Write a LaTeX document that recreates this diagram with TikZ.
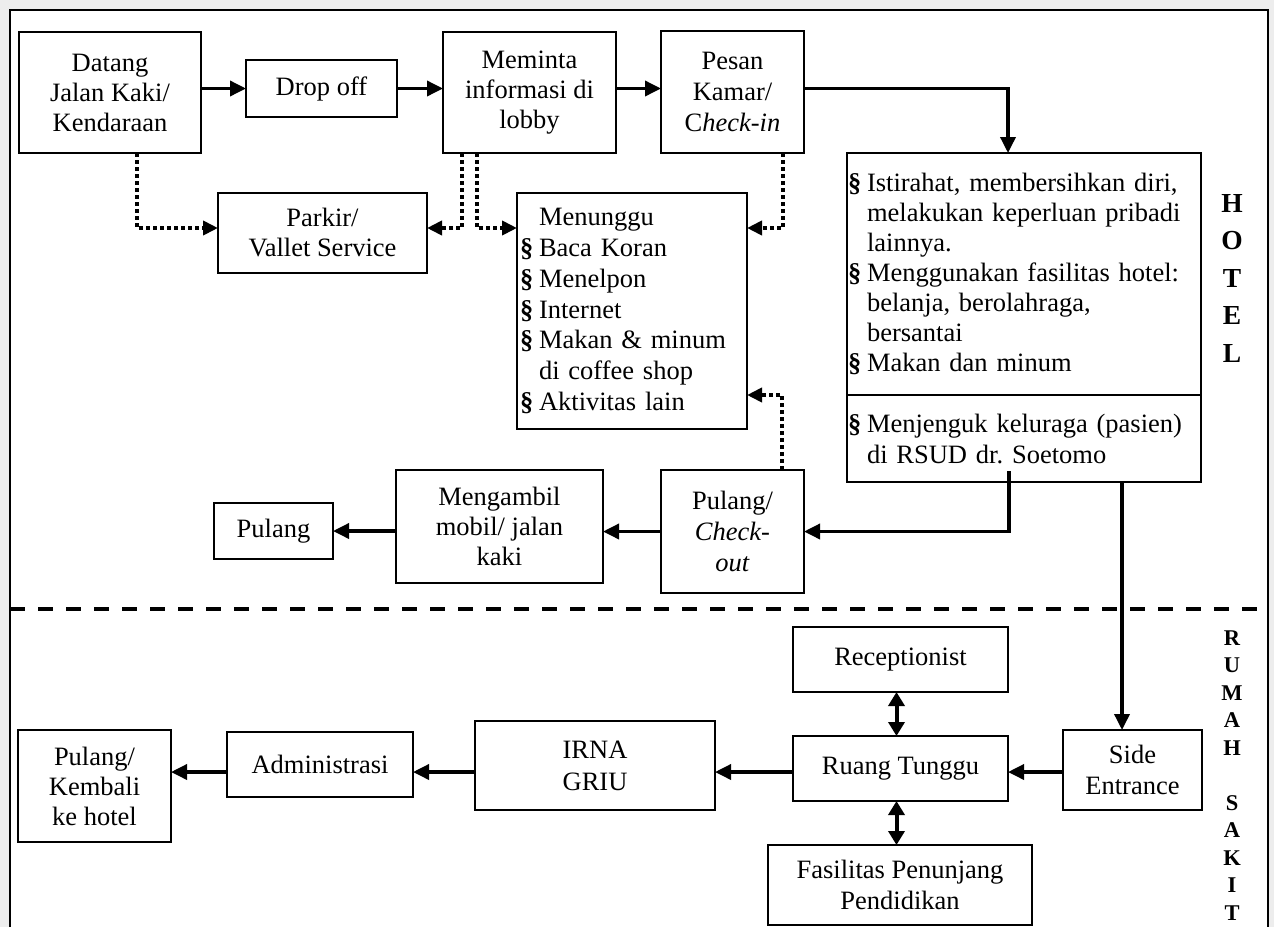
\documentclass[tikz,border=0pt]{standalone}
\usepackage{fontspec}
\setmainfont{Liberation Serif}
\usetikzlibrary{arrows.meta}
\frenchspacing
% bullet mark and hanging indent used in the activity lists
\newcommand\bulmark{\makebox[19pt][l]{\textbf{§}}}
\newcommand\bulgap{\hspace*{19pt}}
\begin{document}
\begin{tikzpicture}[x=1pt,y=-1pt,
  box/.style={draw, line width=1.8pt, inner sep=0pt, outer sep=0pt, align=center,
    font=\fontsize{26.5}{30}\selectfont},
  listbox/.style={box, align=left, inner xsep=3pt},
  flow/.style={line width=3.5pt, -{Triangle[length=16pt,width=15pt]}},
  dots/.style={line width=4pt, dash pattern=on 4pt off 3pt, -{Triangle[length=15pt,width=14pt]}},
  both/.style={line width=4pt, {Triangle[length=14pt,width=16pt]}-{Triangle[length=14pt,width=16pt]}},
  zone/.style={align=center, inner sep=0pt, font=\bfseries\fontsize{27.5}{37.5}\selectfont}
]
\useasboundingbox (0,0) rectangle (1274,927);
% page margin and frame
\fill[gray!14] (0,0) rectangle (1274,927);
\fill[white] (10,10) rectangle (1268,927);
\draw[line width=2.5pt] (10,927) -- (10,10) -- (1268,10) -- (1268,927);
% border between hotel and hospital zones
\draw[line width=4pt, dash pattern=on 15pt off 13pt] (10,609) -- (1268,609);

% zone labels
\node[zone] (hotel) at (1232,278) {H\\O\\T\\E\\L};
\node[zone, font=\bfseries\fontsize{22.5}{27.5}\selectfont] (rs) at (1232,775.5)
  {R\\U\\M\\A\\H\\\mbox{}\\S\\A\\K\\I\\T};

% hotel: arrival
\node[box, minimum width=182pt, minimum height=121pt] (datang) at (110,92.5) {Datang\\Jalan Kaki/\\Kendaraan};
\node[box, minimum width=151pt, minimum height=57pt] (drop) at (321.5,88.5) {Drop off};
\node[box, minimum width=173pt, minimum height=121pt] (minta) at (529.5,92.5) {Meminta\\informasi di\\lobby};
\node[box, minimum width=143pt, minimum height=122pt, font=\fontsize{26.5}{31}\selectfont] (pesan) at (732.5,92) {Pesan\\Kamar/\\C\textit{heck-in}};
\node[box, minimum width=209pt, minimum height=80pt] (parkir) at (322.5,233) {Parkir/\\Vallet Service};
\node[listbox, text width=224pt, minimum height=236pt, font=\fontsize{26.5}{30.8}\selectfont] (tunggu) at (632,311)
  {\bulgap Menunggu\\\bulmark Baca Koran\\\bulmark Menelpon\\\bulmark Internet\\\bulmark Makan \& minum\\\bulgap di coffee shop\\\bulmark Aktivitas lain};

% hotel: stay
\node[listbox, inner xsep=1pt, text width=352pt, minimum height=242pt] (stayA) at (1024,274)
  {\bulmark Istirahat, membersihkan diri,\\\bulgap melakukan keperluan pribadi\\\bulgap lainnya.\\\bulmark Menggunakan fasilitas hotel:\\\bulgap belanja, berolahraga,\\\bulgap bersantai\\\bulmark Makan dan minum};
\node[listbox, inner xsep=1pt, text width=352pt, minimum height=87pt, font=\fontsize{26.5}{31}\selectfont] (stayB) at (1024,438.5)
  {\bulmark Menjenguk keluraga (pasien)\\\bulgap di RSUD dr. Soetomo};

% hotel: departure
\node[box, minimum width=143pt, minimum height=123pt, font=\fontsize{26.5}{31}\selectfont] (checkout) at (732.5,531.5) {Pulang/\\\textit{Check-}\\\textit{out}};
\node[box, minimum width=207pt, minimum height=113pt] (ambil) at (499.5,526.5) {Mengambil\\mobil/ jalan\\kaki};
\node[box, minimum width=119pt, minimum height=56pt] (pulang) at (273.5,531) {Pulang};

% hospital
\node[box, minimum width=215pt, minimum height=65pt] (recep) at (900.5,659.5) {Receptionist};
\node[box, minimum width=215pt, minimum height=65pt] (ruang) at (900.5,768.5) {Ruang Tunggu};
\node[box, minimum width=264pt, minimum height=80pt, font=\fontsize{26.5}{31}\selectfont] (fasil) at (900,885) {Fasilitas Penunjang\\Pendidikan};
\node[box, minimum width=139pt, minimum height=80pt, font=\fontsize{26.5}{31}\selectfont] (side) at (1132.5,770) {Side\\Entrance};
\node[box, minimum width=240pt, minimum height=89pt, font=\fontsize{26.5}{32}\selectfont] (irna) at (595,765.5) {IRNA\\GRIU};
\node[box, minimum width=186pt, minimum height=65pt] (admin) at (320,764.5) {Administrasi};
\node[box, minimum width=153pt, minimum height=112pt] (kembali) at (94.5,786) {Pulang/\\Kembali\\ke hotel};

% helper rows
\coordinate (mid) at (0,228);
\coordinate (back) at (0,395);
\coordinate (row) at (0,772);
\coordinate (visit) at (1009,471);

% solid flow
\draw[flow] (datang.east |- drop.west) -- (drop.west);
\draw[flow] (drop.east) -- (minta.west |- drop.east);
\draw[flow] (minta.east |- drop.east) -- (pesan.west |- drop.east);
\draw[flow] (pesan.east |- drop.east) -| ([xshift=-16pt]stayA.north);
\draw[flow] (visit) |- (checkout.east);
\draw[flow] (checkout.west) -- (ambil.east |- checkout.west);
\draw[flow] (ambil.west |- pulang.east) -- (pulang.east);
\draw[flow] ([xshift=98pt]stayB.south) -- ([xshift=98pt]stayB.south |- side.north);
\draw[flow] (side.west |- row) -- (ruang.east |- row);
\draw[flow] (ruang.west |- row) -- (irna.east |- row);
\draw[flow] (irna.west |- row) -- (admin.east |- row);
\draw[flow] (admin.west |- row) -- (kembali.east |- row);
\draw[both] ([xshift=-4pt]recep.south) -- ([xshift=-4pt]ruang.north);
\draw[both] ([xshift=-4pt]ruang.south) -- ([xshift=-4pt]ruang.south |- fasil.north);

% dotted side trips
\draw[dots] ([xshift=27pt]datang.south) |- (parkir.west |- mid);
\draw[dots] ([xshift=-67.5pt]minta.south) |- (parkir.east |- mid);
\draw[dots] ([xshift=-52.5pt]minta.south) |- (tunggu.west |- mid);
\draw[dots] ([xshift=50.5pt]pesan.south) |- (tunggu.east |- mid);
\draw[dots] ([xshift=49.5pt]checkout.north) |- (tunggu.east |- back);
\end{tikzpicture}
\end{document}
